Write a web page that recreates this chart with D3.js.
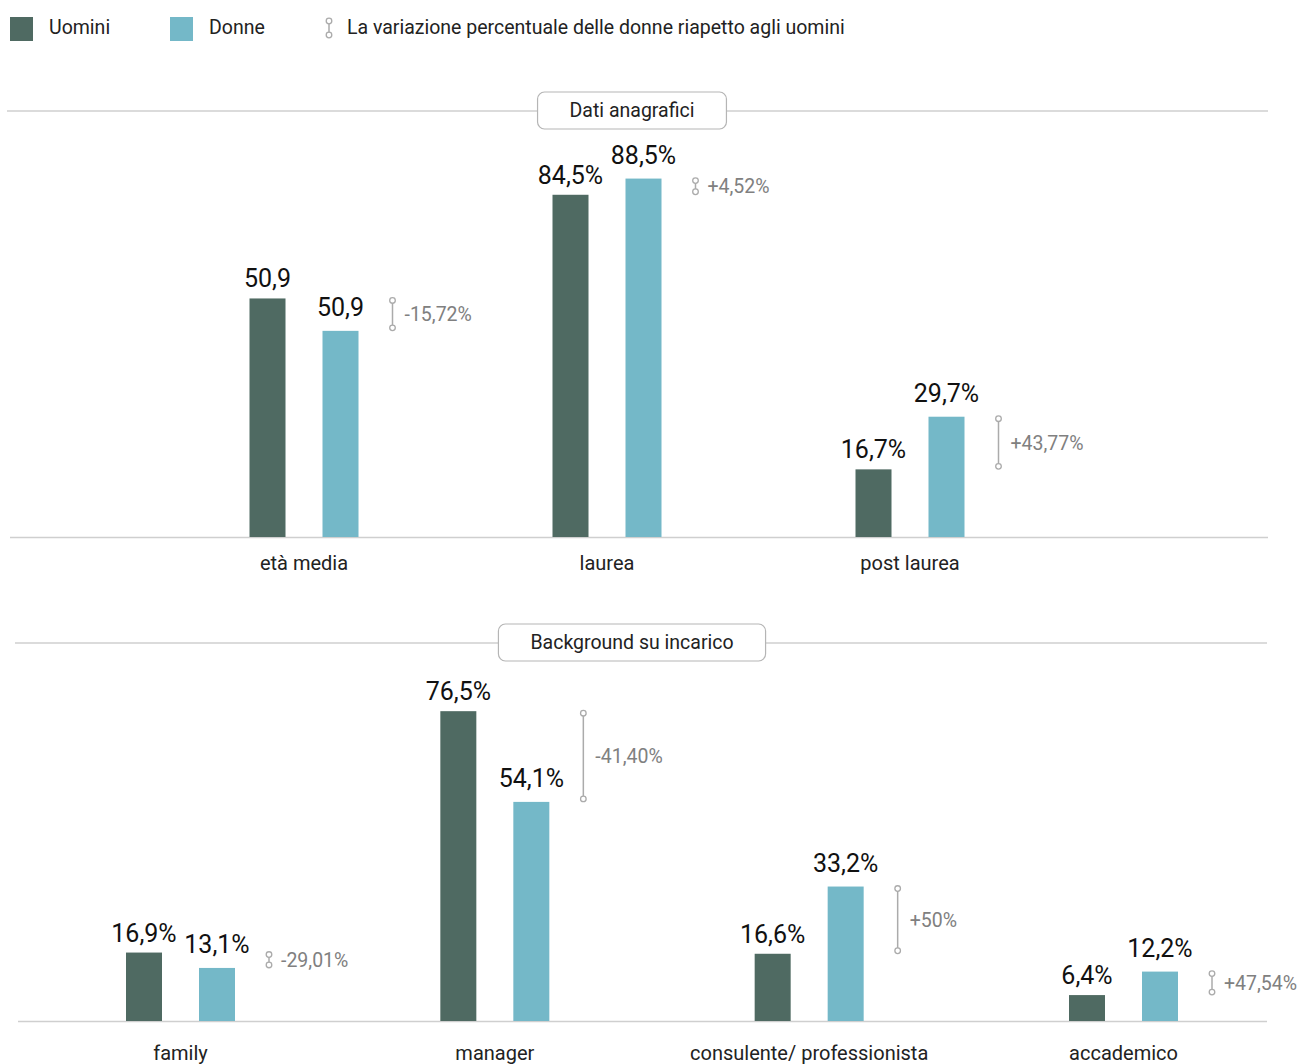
<!DOCTYPE html>
<html>
<head>
<meta charset="utf-8">
<script src="https://cdn.jsdelivr.net/npm/d3@7"></script>
<style>
  html, body { margin: 0; padding: 0; background: #fff; }
  svg { display: block; font-family: Roboto, "Noto Sans", sans-serif; }
</style>
</head>
<body>
<svg id="chart" width="1298" height="1064"></svg>
<script>
// ---------- DATA ----------
const seriesNames = ["Uomini", "Donne"];
const legendNote = "La variazione percentuale delle donne riapetto agli uomini";

const section1Title = "Dati anagrafici";
const section1Categories = ["età media", "laurea", "post laurea"];
const section1Men = [58.9, 84.5, 16.7];
const section1Women = [50.9, 88.5, 29.7];
const section1MenLabels = ["50,9", "84,5%", "16,7%"];
const section1WomenLabels = ["50,9", "88,5%", "29,7%"];
const section1Variation = ["-15,72%", "+4,52%", "+43,77%"];

const section2Title = "Background su incarico";
const section2Categories = ["family", "manager", "consulente/ professionista", "accademico"];
const section2Men = [16.9, 76.5, 16.6, 6.4];
const section2Women = [13.1, 54.1, 33.2, 12.2];
const section2MenLabels = ["16,9%", "76,5%", "16,6%", "6,4%"];
const section2WomenLabels = ["13,1%", "54,1%", "33,2%", "12,2%"];
const section2Variation = ["-29,01%", "-41,40%", "+50%", "+47,54%"];

// ---------- STYLE ----------
const colMen = "#4f6a62";
const colWomen = "#74b8c8";
const colAxis = "#cfcfcf";
const colMarker = "#ababab";
const colVarText = "#808080";

const svg = d3.select("#chart");

// Legend
const legend = svg.append("g");
const legItems = [
  {name: seriesNames[0], color: colMen, x: 10},
  {name: seriesNames[1], color: colWomen, x: 170}
];
legItems.forEach(it => {
  legend.append("rect").attr("x", it.x).attr("y", 17).attr("width", 23).attr("height", 24).attr("fill", it.color);
  legend.append("text").attr("x", it.x + 39).attr("y", 34).attr("font-size", 19.5).attr("fill", "#222").text(it.name);
});
function markerIcon(g, x, y1, y2) {
  g.append("line").attr("x1", x).attr("x2", x).attr("y1", y1).attr("y2", y2)
    .attr("stroke", colMarker).attr("stroke-width", 1.5);
  [y1, y2].forEach(yy => g.append("circle").attr("cx", x).attr("cy", yy).attr("r", 2.8)
    .attr("fill", "#fff").attr("stroke", colMarker).attr("stroke-width", 1.3));
}
markerIcon(legend, 329, 21, 35);
legend.append("text").attr("x", 347).attr("y", 34).attr("font-size", 19.5).attr("fill", "#222").text(legendNote);

// Shared value scale (bar height)
const h = d3.scaleLinear().domain([0, 100]).range([0, 405]);
const barW = 36, barGap = 37;

function section(opts) {
  const g = svg.append("g");
  // header line + box
  g.append("line").attr("x1", opts.lineX1).attr("x2", opts.lineX2)
    .attr("y1", opts.headerY).attr("y2", opts.headerY).attr("stroke", colAxis).attr("stroke-width", 1.3);
  const tx = g.append("text").attr("x", 632).attr("y", opts.headerY + 6)
    .attr("text-anchor", "middle").attr("font-size", 19.5).attr("fill", "#222").text(opts.title);
  const bw = tx.node().getComputedTextLength() + 64;
  g.insert("rect", "text").attr("x", 632 - bw / 2).attr("y", opts.headerY - 19)
    .attr("width", bw).attr("height", 37).attr("rx", 7)
    .attr("fill", "#fff").attr("stroke", "#b5b5b5").attr("stroke-width", 1.2);

  const x = d3.scalePoint().domain(opts.categories).range(opts.xRange);
  const sub = d3.scaleOrdinal().domain(seriesNames).range([-(barGap / 2 + barW), barGap / 2]);
  const base = opts.baseline;

  // axis line
  g.append("line").attr("x1", opts.lineX1 + 3).attr("x2", opts.lineX2)
    .attr("y1", base + 0.5).attr("y2", base + 0.5).attr("stroke", colAxis).attr("stroke-width", 1.5);

  const rows = opts.categories.map((c, i) => ({
    cat: c, men: opts.men[i], women: opts.women[i],
    ml: opts.menLabels[i], wl: opts.womenLabels[i], v: opts.variation[i]
  }));

  rows.forEach(r => {
    const cx = x(r.cat);
    const mx = cx + sub(seriesNames[0]);
    const wx = cx + sub(seriesNames[1]);
    const mTop = base - h(r.men), wTop = base - h(r.women);
    g.append("rect").attr("x", mx).attr("y", mTop).attr("width", barW).attr("height", h(r.men)).attr("fill", colMen);
    g.append("rect").attr("x", wx).attr("y", wTop).attr("width", barW).attr("height", h(r.women)).attr("fill", colWomen);
    g.append("text").attr("x", mx + barW / 2).attr("y", mTop - 11).attr("text-anchor", "middle")
      .attr("font-size", 25).attr("fill", "#111").text(r.ml);
    g.append("text").attr("x", wx + barW / 2).attr("y", wTop - 15).attr("text-anchor", "middle")
      .attr("font-size", 25).attr("fill", "#111").text(r.wl);
    // variation marker
    const vx = wx + barW + 34;
    const y1 = Math.min(mTop, wTop) + 2, y2 = Math.max(mTop, wTop) - 3;
    markerIcon(g, vx, y1, y2);
    g.append("text").attr("x", vx + 12).attr("y", (y1 + y2) / 2 + 7)
      .attr("font-size", 19.5).attr("fill", colVarText).text(r.v);
    // category label
    g.append("text").attr("x", cx).attr("y", base + opts.labelOffset).attr("text-anchor", "middle")
      .attr("font-size", 20).attr("fill", "#222").text(r.cat);
  });
}

section({
  title: section1Title, headerY: 111, lineX1: 7, lineX2: 1268, baseline: 537, labelOffset: 33,
  categories: section1Categories, xRange: [304, 910],
  men: section1Men, women: section1Women,
  menLabels: section1MenLabels, womenLabels: section1WomenLabels, variation: section1Variation
});
section({
  title: section2Title, headerY: 643, lineX1: 15, lineX2: 1267, baseline: 1021, labelOffset: 39,
  categories: section2Categories, xRange: [180.5, 1123.5],
  men: section2Men, women: section2Women,
  menLabels: section2MenLabels, womenLabels: section2WomenLabels, variation: section2Variation
});
</script>
</body>
</html>
